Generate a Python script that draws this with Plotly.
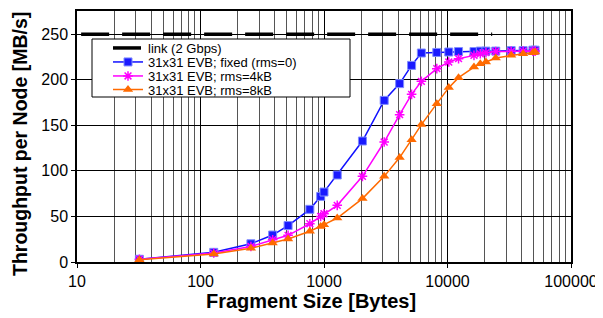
import plotly.graph_objects as go

frag_size = [32, 128, 256, 384, 512, 768, 940, 1000, 1280, 2048, 3072, 4096, 5120,
             6144, 8192, 10240, 12288, 16384, 18432, 20480, 24576, 32768, 40960, 49152, 51200]
fixed_rms0 = [3, 10.6, 20, 29.6, 40, 57.8, 72, 76.8, 95.5, 132.8, 177.4, 195.8, 215.8,
              229.4, 230, 230.5, 231, 231, 231.5, 231.5, 231.5, 232, 232, 232.5, 232.5]
rms_4kb = [3, 9.8, 17, 24.5, 29.3, 42, 50, 53, 62.2, 94, 131.7, 161.7, 184,
           198.3, 212.2, 219.5, 223.2, 226.8, 228.5, 229.8, 231, 231.2, 231.5, 231.5, 231.5]
rms_8kb = [2.5, 8.8, 15, 20.9, 25.3, 33.7, 39, 41, 48.3, 69.6, 94, 114.6, 134.3,
           150.8, 173.8, 191.4, 202.3, 214, 217.7, 219.5, 223.9, 226.8, 228.7, 229.8, 230.4]
link_x = [10.8, 23000]
link_y = [250, 250]

x_tickvals = [10, 100, 1000, 10000, 100000]
x_ticktext = ["10", "100", "1000", "10000", "100000"]
y_tickvals = [0, 50, 100, 150, 200, 250]

x_title = "Fragment Size [Bytes]"
y_title = "Throughput per Node [MB/s]"

FONT = "Liberation Sans, Arial, sans-serif"

# plot area in page pixels (reference): left 77, right 571, top 11, bottom 262
PL, PR, PT, PB = 77, 571, 11, 262
PW, PH = PR - PL, PB - PT
BODY = 8  # default page body margin offset

fig = go.Figure()
fig.add_trace(go.Scatter(x=link_x, y=link_y, mode="lines", name="link (2 Gbps)",
                         legend="legend",
                         line=dict(color="black", width=3.5, dash="28px,13px")))
fig.add_trace(go.Scatter(x=frag_size, y=fixed_rms0, mode="lines+markers",
                         name="31x31 EVB; fixed (rms=0)", legend="legend2",
                         line=dict(color="#1010ff", width=1.5),
                         marker=dict(symbol="square", size=8, color="#1a1aff",
                                     line=dict(color="#7f8cff", width=1))))
fig.add_trace(go.Scatter(x=frag_size, y=rms_4kb, mode="lines+markers",
                         name="31x31 EVB; rms=4kB", legend="legend3",
                         line=dict(color="#ff00ff", width=1.5),
                         marker=dict(symbol="asterisk-open", size=8,
                                     line=dict(color="#ff00ff", width=1.5))))
fig.add_trace(go.Scatter(x=frag_size, y=rms_8kb, mode="lines+markers",
                         name="31x31 EVB; rms=8kB", legend="legend4",
                         line=dict(color="#ff6a00", width=1.5),
                         marker=dict(symbol="triangle-up", size=9, color="#ff6a00",
                                     line=dict(color="#ff6a00", width=0))))

def px_x(p):
    return (p - PL) / PW

def px_y(p):
    return 1 - (p - PT) / PH

def leg(ypx):
    return dict(x=px_x(108), y=px_y(ypx), xanchor="left", yanchor="middle",
                bgcolor="rgba(0,0,0,0)", borderwidth=0,
                font=dict(family=FONT, size=13, color="black"))

fig.update_layout(
    width=603, height=318,
    margin=dict(l=PL - BODY, r=603 - (PR - BODY), t=PT - BODY, b=318 - (PB - BODY)),
    paper_bgcolor="white", plot_bgcolor="white",
    font=dict(family=FONT, color="black", size=16),
    showlegend=True,
    legend=leg(48), legend2=leg(62), legend3=leg(76), legend4=leg(89.5),
    shapes=[dict(type="rect", xref="paper", yref="paper",
                 x0=px_x(92), x1=px_x(350), y0=px_y(97), y1=px_y(39),
                 line=dict(color="black", width=1), fillcolor="white", layer="above")],
    annotations=[
        dict(text="<b>" + x_title + "</b>", xref="paper", yref="paper",
             x=px_x(310.5), y=px_y(301), xanchor="center", yanchor="middle",
             showarrow=False, font=dict(size=20, family=FONT, color="black")),
        dict(text="<b>" + y_title + "</b>", xref="paper", yref="paper",
             x=px_x(20), y=px_y(144), xanchor="center", yanchor="middle",
             textangle=-90, showarrow=False,
             font=dict(size=19.5, family=FONT, color="black")),
    ],
)
fig.update_xaxes(
    type="log", range=[1, 5], automargin=False,
    tickvals=x_tickvals, ticktext=x_ticktext,
    showgrid=True, gridcolor="black", gridwidth=1,
    minor=dict(showgrid=True, gridcolor="#555555", gridwidth=1, dtick="D1", ticks=""),
    showline=True, linecolor="black", linewidth=1.5, mirror=True,
    ticks="outside", ticklen=4, tickcolor="black",
    tickfont=dict(size=16, family=FONT),
    zeroline=False,
)
fig.update_yaxes(
    range=[0, 275.5], automargin=False,
    tickvals=y_tickvals,
    showgrid=True, gridcolor="black", gridwidth=1,
    showline=True, linecolor="black", linewidth=1.5, mirror=True,
    ticks="outside", ticklen=4, tickcolor="black",
    tickfont=dict(size=16, family=FONT),
    zeroline=False,
)

fig.write_html("out.html")
